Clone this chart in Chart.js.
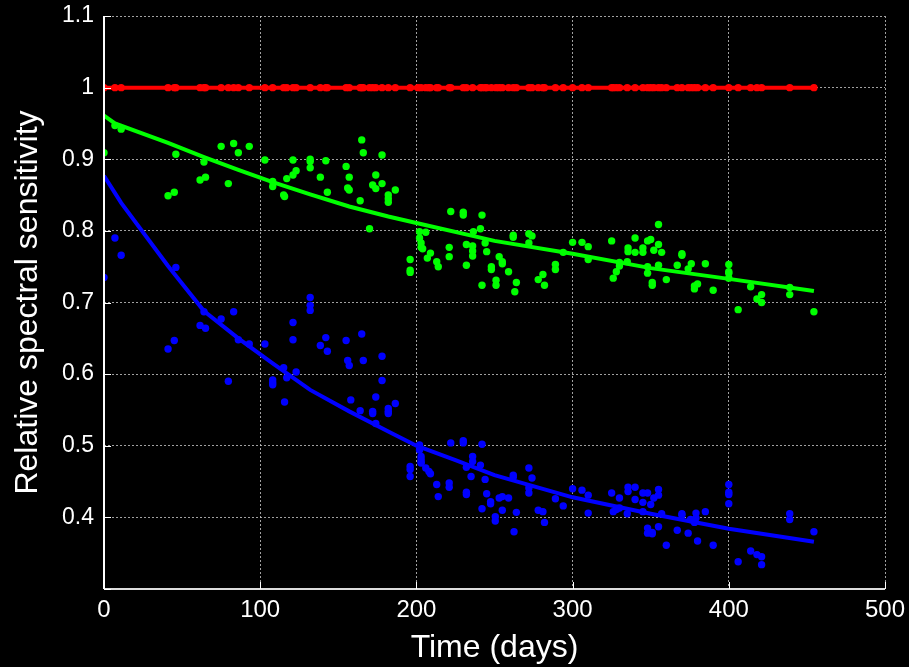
<!DOCTYPE html>
<html>
<head>
<meta charset="utf-8">
<script src="https://cdn.jsdelivr.net/npm/chart.js@4/dist/chart.umd.min.js"></script>
<style>
  html, body { margin: 0; padding: 0; background: #000; }
  #wrap { width: 909px; height: 667px; }
</style>
</head>
<body>
<div id="wrap"><canvas id="sens"></canvas></div>
<script>
// measurement days (red reference, normalised to 1)
const redDays = [0, 7, 11, 41, 45, 46, 61.5, 64, 65, 75,
    79.6, 83, 86, 93, 103, 108, 115, 117, 121, 123,
    132, 138.5, 142, 143, 155, 157, 164, 165, 166, 170,
    172, 174, 178, 182, 186.5, 196, 201, 203, 206, 208,
    209, 213, 214, 221, 222, 230, 232, 236, 241, 242,
    244, 245, 248, 251, 253, 255, 259, 262, 264, 272,
    274, 278, 281, 282, 289, 294, 300, 306, 310, 325,
    326, 328, 330, 335, 340, 345, 348, 350, 352, 355,
    357, 360, 367, 370, 374, 376, 378, 380, 385, 390,
    400, 406, 414, 418, 421, 439, 454.5];
const redVals = [1, 1, 1, 1, 1, 1, 1, 1, 1, 1,
    1, 1, 1, 1, 1, 1, 1, 1, 1, 1,
    1, 1, 1, 1, 1, 1, 1, 1, 1, 1,
    1, 1, 1, 1, 1, 1, 1, 1, 1, 1,
    1, 1, 1, 1, 1, 1, 1, 1, 1, 1,
    1, 1, 1, 1, 1, 1, 1, 1, 1, 1,
    1, 1, 1, 1, 1, 1, 1, 1, 1, 1,
    1, 1, 1, 1, 1, 1, 1, 1, 1, 1,
    1, 1, 1, 1, 1, 1, 1, 1, 1, 1,
    1, 1, 1, 1, 1, 1, 1];

// green channel
const greenDays = [0, 7, 11, 41, 45, 46, 61.5, 64, 65, 75,
    79.6, 83, 86, 93, 103, 108, 108, 115, 115.6, 117,
    121, 121, 123, 132, 132, 132, 138.5, 142, 143, 155,
    157, 156, 157, 164, 165, 166, 170, 172, 174, 174,
    178, 178, 182, 182, 182, 186.5, 196, 196, 196, 202,
    202, 203, 203, 204, 206, 207, 209, 213, 214, 221,
    221, 222, 230, 230, 232, 232, 236, 236, 236, 236.5,
    241, 242, 242, 244, 245, 248, 248, 251, 251, 253,
    255, 255, 259, 262, 262, 263, 264, 272, 274, 272,
    278, 281, 282, 289, 289, 294, 300, 306, 310, 310,
    325, 326, 328, 330, 330, 335, 335.5, 335.5, 340, 340,
    345, 345, 348, 350, 348, 348, 351, 351, 352, 355,
    355, 355, 357, 360, 367, 370, 370, 374, 376, 378,
    378, 380, 385, 390, 400, 400, 400, 400, 406, 414,
    418, 421, 421, 439, 439, 454.5];
const greenVals = [0.909, 0.947, 0.942, 0.849, 0.854, 0.907, 0.871, 0.896, 0.875, 0.918,
    0.866, 0.922, 0.909, 0.918, 0.899, 0.869, 0.862, 0.850, 0.848, 0.873,
    0.899, 0.878, 0.884, 0.900, 0.897, 0.888, 0.875, 0.898, 0.854, 0.890,
    0.875, 0.860, 0.857, 0.842, 0.927, 0.909, 0.803, 0.864, 0.859, 0.878,
    0.906, 0.866, 0.850, 0.845, 0.840, 0.857, 0.760, 0.745, 0.742, 0.799,
    0.790, 0.783, 0.777, 0.775, 0.798, 0.762, 0.769, 0.757, 0.750, 0.777,
    0.764, 0.827, 0.826, 0.822, 0.781, 0.752, 0.779, 0.772, 0.765, 0.799,
    0.803, 0.822, 0.724, 0.783, 0.771, 0.750, 0.746, 0.731, 0.724, 0.764,
    0.757, 0.754, 0.743, 0.794, 0.791, 0.715, 0.728, 0.796, 0.793, 0.783,
    0.732, 0.739, 0.724, 0.753, 0.746, 0.770, 0.784, 0.784, 0.778, 0.760,
    0.786, 0.734, 0.743, 0.756, 0.751, 0.757, 0.776, 0.771, 0.790, 0.770,
    0.776, 0.770, 0.786, 0.788, 0.750, 0.741, 0.728, 0.724, 0.773, 0.809,
    0.781, 0.752, 0.770, 0.732, 0.752, 0.768, 0.766, 0.747, 0.754, 0.719,
    0.723, 0.726, 0.754, 0.717, 0.753, 0.743, 0.741, 0.734, 0.690, 0.722,
    0.705, 0.711, 0.700, 0.721, 0.711, 0.687];

// blue channel
const blueDays = [0, 7, 11, 41, 45, 46, 61.5, 64, 65, 75,
    79.6, 83, 86, 93, 103, 108, 108, 108, 115, 115.6,
    117, 121, 121, 123, 132, 132, 132, 138.5, 142, 143,
    155, 156, 157, 158, 164, 165, 166, 172, 172, 174,
    174, 178, 178, 182, 182, 182, 186.5, 196, 196, 196,
    202, 202, 203, 203, 203, 203, 206, 208, 209, 213,
    214, 221, 221, 222, 230, 230, 232, 232, 232, 235,
    236, 236, 241, 242, 242, 244, 245, 247.5, 247.5, 250.5,
    250.5, 253, 255, 255, 259, 262, 262, 262.5, 264, 272,
    274, 272, 272, 278, 281, 282, 289, 294, 300, 306,
    310, 310, 325, 326, 328, 330, 330, 335, 335.5, 335.5,
    340, 340, 345, 345, 345, 348, 348, 348, 350, 351,
    351, 352, 355, 355, 355, 357, 360, 367, 370, 370,
    374, 375.5, 378, 379, 379, 380, 385, 390, 400, 400,
    400, 400, 406, 414, 418, 421, 421, 439, 439, 454.5];
const blueVals = [0.735, 0.790, 0.766, 0.635, 0.647, 0.749, 0.668, 0.687, 0.664, 0.677,
    0.590, 0.687, 0.648, 0.642, 0.642, 0.592, 0.588, 0.585, 0.609, 0.561,
    0.595, 0.672, 0.648, 0.603, 0.707, 0.696, 0.689, 0.640, 0.651, 0.632,
    0.647, 0.619, 0.612, 0.564, 0.549, 0.656, 0.619, 0.548, 0.545, 0.531,
    0.568, 0.625, 0.591, 0.552, 0.548, 0.545, 0.559, 0.471, 0.467, 0.457,
    0.501, 0.494, 0.485, 0.481, 0.477, 0.476, 0.469, 0.464, 0.461, 0.446,
    0.429, 0.448, 0.442, 0.504, 0.507, 0.504, 0.435, 0.432, 0.470, 0.457,
    0.485, 0.478, 0.473, 0.502, 0.412, 0.453, 0.433, 0.422, 0.419, 0.401,
    0.395, 0.427, 0.429, 0.410, 0.427, 0.459, 0.456, 0.380, 0.407, 0.469,
    0.455, 0.441, 0.434, 0.410, 0.408, 0.393, 0.426, 0.416, 0.440, 0.438,
    0.431, 0.406, 0.434, 0.408, 0.411, 0.427, 0.413, 0.405, 0.442, 0.436,
    0.442, 0.425, 0.434, 0.421, 0.408, 0.434, 0.385, 0.378, 0.418, 0.377,
    0.379, 0.427, 0.439, 0.431, 0.387, 0.405, 0.361, 0.382, 0.405, 0.403,
    0.378, 0.397, 0.393, 0.406, 0.399, 0.367, 0.408, 0.361, 0.446, 0.435,
    0.432, 0.419, 0.338, 0.353, 0.348, 0.345, 0.334, 0.405, 0.397, 0.380];

// fitted decay curves, drawn as straight segments between sample days
const greenFitDays = [0, 7, 41, 64, 86, 108, 132, 157, 182, 200, 250, 300, 350, 400, 454.5];
const greenFitVals = [0.961, 0.950, 0.923, 0.903, 0.885, 0.868, 0.851, 0.834, 0.820, 0.811, 0.786, 0.768, 0.748, 0.733, 0.716];
const blueFitDays = [0, 11, 41, 64, 86, 108, 132, 157, 182, 200, 225, 250, 300, 350, 400, 454.5];
const blueFitVals = [0.877, 0.839, 0.751, 0.688, 0.650, 0.615, 0.578, 0.548, 0.520, 0.500, 0.480, 0.459, 0.428, 0.405, 0.384, 0.366];

const xTicks = [0, 100, 200, 300, 400, 500];
const yTicks = [0.3, 0.4, 0.5, 0.6, 0.7, 0.8, 0.9, 1, 1.1];

function toPoints(xs, ys) {
    return xs.map((x, i) => ({ x: x, y: ys[i] }));
}

// black figure background
const bgPlugin = {
    id: "bg",
    beforeDraw(chart) {
        const c = chart.ctx;
        c.save();
        c.fillStyle = "#000";
        c.fillRect(0, 0, chart.width, chart.height);
        c.restore();
    }
};

// solid left/bottom axes and matlab style ticks pointing inward
const axesPlugin = {
    id: "axesLines",
    afterDatasetsDraw(chart) {
        const c = chart.ctx;
        const a = chart.chartArea;
        const xs = chart.scales.x, ys = chart.scales.y;
        c.save();
        c.setLineDash([]);
        c.lineWidth = 2;
        c.strokeStyle = "#fff";
        c.beginPath();
        c.moveTo(a.left, a.top);
        c.lineTo(a.left, a.bottom);
        c.stroke();
        c.strokeStyle = "#ddd";
        c.beginPath();
        c.moveTo(a.left, a.bottom);
        c.lineTo(a.right, a.bottom);
        c.stroke();
        c.strokeStyle = "#fff";
        c.lineWidth = 1;
        c.beginPath();
        xTicks.forEach(v => {
            const px = Math.round(xs.getPixelForValue(v)) + 0.5;
            c.moveTo(px, a.bottom);
            c.lineTo(px, a.bottom - 7);
        });
        yTicks.forEach(v => {
            const py = Math.round(ys.getPixelForValue(v)) + 0.5;
            c.moveTo(a.left, py);
            c.lineTo(a.left + 7, py);
        });
        c.stroke();
        c.restore();
    }
};

new Chart(document.getElementById("sens"), {
    type: "scatter",
    data: {
        datasets: [
            {
                label: "Red",
                data: toPoints(redDays, redVals),
                showLine: true,
                borderColor: "#ff0000",
                backgroundColor: "#ff0000",
                borderWidth: 4,
                pointRadius: 3.7,
                pointBorderWidth: 0,
                order: 1
            },
            {
                label: "Green fit",
                data: toPoints(greenFitDays, greenFitVals),
                showLine: true,
                borderColor: "#00ff00",
                borderWidth: 4,
                pointRadius: 0,
                order: 2
            },
            {
                label: "Blue fit",
                data: toPoints(blueFitDays, blueFitVals),
                showLine: true,
                borderColor: "#0000ff",
                borderWidth: 4,
                pointRadius: 0,
                order: 3
            },
            {
                label: "Green",
                data: toPoints(greenDays, greenVals),
                backgroundColor: "#00ff00",
                borderWidth: 0,
                pointRadius: 3.7,
                order: 4
            },
            {
                label: "Blue",
                data: toPoints(blueDays, blueVals),
                backgroundColor: "#0000ff",
                borderWidth: 0,
                pointRadius: 3.7,
                order: 5
            }
        ]
    },
    options: {
        responsive: true,
        maintainAspectRatio: false,
        animation: false,
        layout: { padding: { top: 16, right: 24, left: 0, bottom: 0 } },
        plugins: {
            legend: { display: false },
            tooltip: { enabled: false }
        },
        scales: {
            x: {
                type: "linear",
                min: 0,
                max: 500,
                afterBuildTicks: s => { s.ticks = xTicks.map(v => ({ value: v })); },
                afterFit: s => { s.height = 78; s.paddingLeft = 0; s.paddingRight = 0; },
                border: { display: false, dash: [2, 2] },
                grid: { color: "rgba(200,200,200,0.8)", lineWidth: 1, drawTicks: false, tickLength: 0 },
                ticks: {
                    color: "#fff",
                    padding: 7,
                    font: { family: "Liberation Sans", size: 24 },
                    maxRotation: 0
                },
                title: {
                    display: true,
                    text: "Time (days)",
                    color: "#fff",
                    padding: { top: 0, bottom: 0 },
                    font: { family: "Liberation Sans", size: 32 }
                }
            },
            y: {
                type: "linear",
                min: 0.3,
                max: 1.1,
                afterBuildTicks: s => { s.ticks = yTicks.map(v => ({ value: v })); },
                afterFit: s => { s.width = 104; s.paddingTop = 0; s.paddingBottom = 0; },
                border: { display: false, dash: [2, 2] },
                grid: { color: "rgba(200,200,200,0.8)", lineWidth: 1, drawTicks: false, tickLength: 0 },
                ticks: {
                    color: "#fff",
                    padding: 10,
                    font: { family: "Liberation Sans", size: 23 },
                    callback: v => (Math.abs(v - 0.3) < 1e-6 ? "" : String(Number(v.toFixed(1))))
                },
                title: {
                    display: true,
                    text: "Relative spectral sensitivity",
                    color: "#fff",
                    padding: { top: 9, bottom: 0 },
                    font: { family: "Liberation Sans", size: 32 }
                }
            }
        }
    },
    plugins: [bgPlugin, axesPlugin]
});
</script>
</body>
</html>
